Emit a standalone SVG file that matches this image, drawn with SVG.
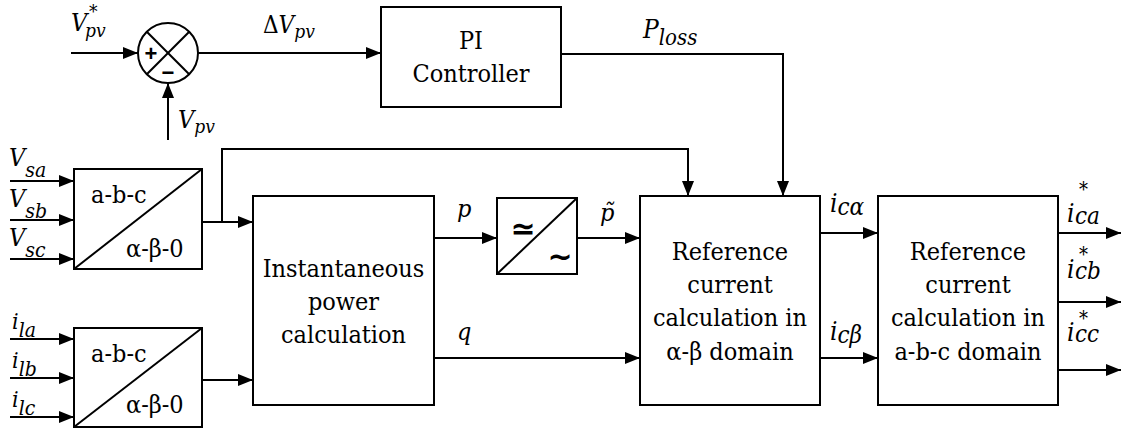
<svg xmlns="http://www.w3.org/2000/svg" width="1121" height="430" viewBox="0 0 1121 430">
<defs>
<marker id="ah" markerUnits="userSpaceOnUse" markerWidth="15" markerHeight="12" refX="15" refY="6" orient="auto">
<path d="M0,0 L15,6 L0,12 z" fill="#000"/>
</marker>
<style>
.box{fill:#fff;stroke:#000;stroke-width:2}
.ln{fill:none;stroke:#000;stroke-width:2}
.w{stroke:#000;stroke-width:2;fill:none;marker-end:url(#ah)}
.t{font-family:'DejaVu Serif Condensed','DejaVu Serif',serif;font-size:25px;fill:#000}
.c{text-anchor:middle}
.it{font-family:'DejaVu Serif Condensed','DejaVu Serif',serif;font-style:italic;fill:#000}
.sym{font-family:'DejaVu Sans',sans-serif;font-weight:bold;fill:#000;text-anchor:middle}
</style>
</defs>
<rect width="1121" height="430" fill="#fff"/>

<g id="sum">
<circle cx="168" cy="53" r="30" class="box"/>
<line x1="146.8" y1="31.8" x2="189.2" y2="74.2" class="ln"/>
<line x1="189.2" y1="31.8" x2="146.8" y2="74.2" class="ln"/>
<text x="151" y="61" font-family="Liberation Sans, sans-serif" font-weight="bold" font-size="22" text-anchor="middle">+</text>
<text x="168" y="80" font-family="Liberation Sans, sans-serif" font-weight="bold" font-size="22" text-anchor="middle">−</text>
</g>

<g id="pi">
<rect x="381" y="7" width="180" height="100" class="box"/>
<text x="471" y="49" class="t c">PI</text>
<text x="471" y="82" class="t c">Controller</text>
</g>

<g id="abc1">
<rect x="74" y="169" width="128" height="100" class="box"/>
<line x1="74" y1="269" x2="202" y2="169" class="ln"/>
<text x="91" y="203" class="t">a-b-c</text>
<text x="126" y="257" class="t">α-β-0</text>
</g>

<g id="abc2">
<rect x="74" y="328" width="128" height="99" class="box"/>
<line x1="74" y1="427" x2="202" y2="328" class="ln"/>
<text x="91" y="362" class="t">a-b-c</text>
<text x="126" y="413" class="t">α-β-0</text>
</g>

<g id="ipc">
<rect x="253" y="196" width="181" height="209" class="box"/>
<text x="343.5" y="277" class="t c">Instantaneous</text>
<text x="343.5" y="310" class="t c">power</text>
<text x="343.5" y="343" class="t c">calculation</text>
</g>

<g id="filter">
<rect x="497" y="198" width="80" height="76" class="box"/>
<line x1="497" y1="274" x2="577" y2="198" class="ln"/>
<text x="523" y="239" class="sym" font-size="30">≃</text>
<text x="560" y="267" class="sym" font-size="30">~</text>
</g>

<g id="refab">
<rect x="640" y="196" width="180" height="209" class="box"/>
<text x="730" y="260" class="t c">Reference</text>
<text x="730" y="293" class="t c">current</text>
<text x="730" y="326" class="t c">calculation in</text>
<text x="730" y="360" class="t c">α-β domain</text>
</g>

<g id="refabc">
<rect x="878" y="196" width="180" height="209" class="box"/>
<text x="968" y="260" class="t c">Reference</text>
<text x="968" y="293" class="t c">current</text>
<text x="968" y="326" class="t c">calculation in</text>
<text x="968" y="360" class="t c">a-b-c domain</text>
</g>

<g id="connectors">
<path d="M71,53 H138" class="w"/>
<path d="M198,53 H381" class="w"/>
<path d="M168,140 V83" class="w"/>
<path d="M561,54 H783 V196" class="w"/>
<path d="M10,181 H74" class="w"/>
<path d="M10,220 H74" class="w"/>
<path d="M10,259 H74" class="w"/>
<path d="M10,339 H74" class="w"/>
<path d="M10,378 H74" class="w"/>
<path d="M10,417 H74" class="w"/>
<path d="M202,222 H253" class="w"/>
<path d="M222,222 V149 H688 V196" class="w"/>
<path d="M202,380 H253" class="w"/>
<path d="M434,238 H497" class="w"/>
<path d="M577,238 H640" class="w"/>
<path d="M434,358 H640" class="w"/>
<path d="M820,233 H878" class="w"/>
<path d="M820,358 H878" class="w"/>
<path d="M1058,233 H1121" class="w"/>
<path d="M1058,302 H1121" class="w"/>
<path d="M1058,370 H1121" class="w"/>
</g>

<g id="labels">
<text x="71" y="31" class="it" font-size="25">V<tspan x="89" y="18" font-size="19">*</tspan><tspan x="85" y="37" font-size="19">pv</tspan></text>
<text x="263" y="33" class="it" font-size="24"><tspan font-style="normal">Δ</tspan>V<tspan font-size="19" dy="5">pv</tspan></text>
<text x="178" y="128" class="it" font-size="25">V<tspan font-size="19" dy="5">pv</tspan></text>
<text x="643" y="38" class="it" font-size="26">P<tspan font-size="22" dy="7">loss</tspan></text>
<text x="9" y="166" class="it" font-size="25">V<tspan font-size="21" dy="11">sa</tspan></text>
<text x="9" y="207" class="it" font-size="25">V<tspan font-size="21" dy="11">sb</tspan></text>
<text x="9" y="246" class="it" font-size="25">V<tspan font-size="21" dy="11">sc</tspan></text>
<text x="12" y="329" class="it" font-size="23">i<tspan font-size="21" dy="8">la</tspan></text>
<text x="12" y="368" class="it" font-size="23">i<tspan font-size="21" dy="8">lb</tspan></text>
<text x="12" y="407" class="it" font-size="23">i<tspan font-size="21" dy="8">lc</tspan></text>
<text x="457" y="217" class="it" font-size="25">p</text>
<text x="457" y="340" class="it" font-size="25">q</text>
<text x="600" y="221" class="it" font-size="25">p&#x0303;</text>
<text x="830" y="212" class="it" font-size="26">i<tspan font-size="24" dy="3">cα</tspan></text>
<text x="830" y="340" class="it" font-size="26">i<tspan font-size="24" dy="3">cβ</tspan></text>
<text x="1067" y="222" class="it" font-size="26">i<tspan x="1079" y="196" font-size="20">*</tspan><tspan x="1075" y="224" font-size="24">ca</tspan></text>
<text x="1067" y="278" class="it" font-size="26">i<tspan x="1079" y="261" font-size="20">*</tspan><tspan x="1075" y="279" font-size="24">cb</tspan></text>
<text x="1067" y="341" class="it" font-size="26">i<tspan x="1079" y="325" font-size="20">*</tspan><tspan x="1075" y="342" font-size="24">cc</tspan></text>
</g>
</svg>
